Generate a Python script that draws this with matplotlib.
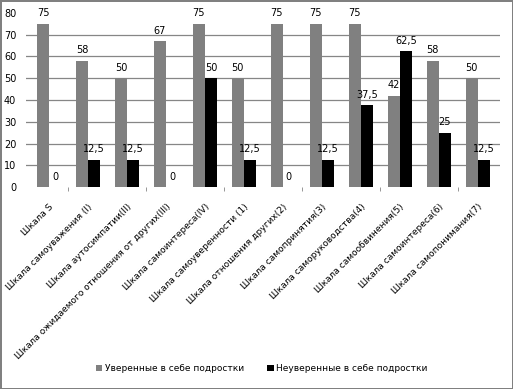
import numpy as np
import matplotlib.pyplot as plt

categories = [
    "Шкала S",
    "Шкала самоуважения (I)",
    "Шкала аутосимпатии(II)",
    "Шкала ожидаемого отношения от других(III)",
    "Шкала самоинтереса(IV)",
    "Шкала самоуверенности (1)",
    "Шкала отношения других(2)",
    "Шкала самопринятия(3)",
    "Шкала саморуководства(4)",
    "Шкала самообвинения(5)",
    "Шкала самоинтереса(6)",
    "Шкала самопонимания(7)",
]
confident = [75, 58, 50, 67, 75, 50, 75, 75, 75, 42, 58, 50]
unconfident = [0, 12.5, 12.5, 0, 50, 12.5, 0, 12.5, 37.5, 62.5, 25, 12.5]
series_names = ["Уверенные в себе подростки", "Неуверенные в себе подростки"]


def fmt(v):
    return ("%g" % v).replace(".", ",")


fig = plt.figure(figsize=(5.13, 3.89), dpi=100)
fig.patch.set_edgecolor("#808080")
fig.patch.set_linewidth(2)
ax = fig.add_axes([26 / 513, 1 - 187 / 389, 474 / 513, 174 / 389])

x = np.arange(len(categories))
w = 0.31
b1 = ax.bar(x - w / 2, confident, w, color="#808080", zorder=2,
            label=series_names[0])
b2 = ax.bar(x + w / 2, unconfident, w, color="#000000", zorder=2,
            label=series_names[1])

# подписи значений над столбцами
for rect, v in zip(b1, confident):
    ax.text(rect.get_x() + rect.get_width() / 2, v + 2.5, fmt(v),
            ha="center", va="bottom", fontsize=7)
for rect, v in zip(b2, unconfident):
    ax.text(rect.get_x() + rect.get_width() / 2, v + 2.5, fmt(v),
            ha="center", va="bottom", fontsize=7)

ax.set_ylim(0, 80)
ax.set_yticks(range(0, 81, 10))
ax.set_xlim(-0.59, len(categories) - 0.43)
for yv in range(10, 80, 10):
    ax.axhline(yv, color="#868686", linewidth=0.9, zorder=0)
for s in ["top", "right", "left", "bottom"]:
    ax.spines[s].set_visible(False)
ax.tick_params(axis="y", length=0, labelsize=7, pad=7)

ax.set_xticks(x)
ax.set_xticklabels(categories, rotation=45, ha="right",
                   rotation_mode="anchor", fontsize=6.5)
ax.tick_params(axis="x", length=0, pad=11)
ax.set_xticks(np.arange(0.5, len(categories), 2), minor=True)
ax.tick_params(axis="x", which="minor", length=3, color="#868686")

fig.legend(handles=[b1, b2], loc="center", bbox_to_anchor=(0.51, 0.052),
           ncol=2, frameon=False, fontsize=6.5, handlelength=0.7,
           handleheight=0.7, columnspacing=2.6, handletextpad=0.3)

fig.savefig("out.png", dpi=100)
